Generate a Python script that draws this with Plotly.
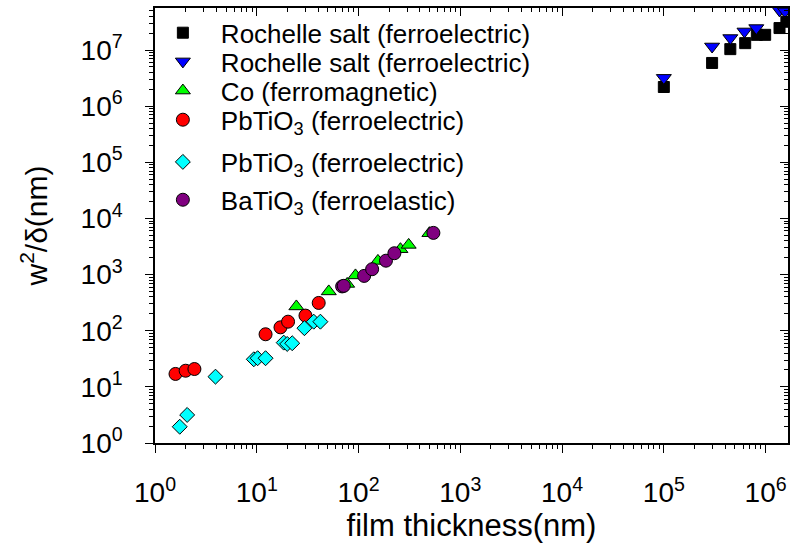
import plotly.graph_objects as go

# Rochelle salt (squares)
rs_sq_x = [1.0e5, 2.98e5, 4.5e5, 6.3e5, 8.2e5, 9.9e5, 1.37e6, 1.6e6]
rs_sq_y = [2.2e6, 5.9e6, 1.04e7, 1.33e7, 1.87e7, 1.87e7, 2.47e7, 3.2e7]
# Rochelle salt (down triangles)
rs_tri_x = [1.0e5, 2.98e5, 4.5e5, 6.2e5, 8.1e5, 1.37e6, 1.55e6]
rs_tri_y = [3.2e6, 1.16e7, 1.64e7, 2.15e7, 2.47e7, 5.1e7, 4.9e7]
# Co (ferromagnetic)
co_x = [24.5, 51, 77.3, 93.3, 155, 258, 311, 497]
co_y = [271, 502, 683, 968, 1754, 2836, 3383, 5470]
# PbTiO3 (red circles)
pto1_x = [1.59, 2.0, 2.44, 12.2, 17.1, 20.3, 30.1, 40.6]
pto1_y = [17.0, 19.4, 20.8, 86.6, 115, 145, 186, 313]
# PbTiO3 (cyan diamonds)
pto2_x = [1.75, 2.07, 3.93, 9.35, 10.2, 12.2, 18.4, 19.9, 22.3, 29.4, 36.3, 42.2]
pto2_y = [1.95, 3.16, 15.2, 31.0, 32.4, 32.4, 61.4, 58.2, 59.9, 111, 145, 145]
# BaTiO3 (ferroelastic)
bto_x = [69, 71.6, 113.5, 136, 186, 225, 544]
bto_y = [616, 631, 948, 1248, 1770, 2405, 5540]

x_decades = [0, 1, 2, 3, 4, 5, 6]
y_decades = [0, 1, 2, 3, 4, 5, 6, 7]

FONT = "Liberation Sans, Arial, Helvetica, sans-serif"


def minor_vals(decades):
    return [k * 10 ** d for d in decades for k in range(2, 10)]


series = [
    ("Rochelle salt (ferroelectric)", rs_sq_x, rs_sq_y, "square", "#000000", 11),
    ("Rochelle salt (ferroelectric)", rs_tri_x, rs_tri_y, "triangle-down", "#0000ff", 13),
    ("Co (ferromagnetic)", co_x, co_y, "triangle-up", "#00ff00", 13),
    ("PbTiO<sub>3</sub> (ferroelectric)", pto1_x, pto1_y, "circle", "#ff0000", 13),
    ("PbTiO<sub>3</sub> (ferroelectric)", pto2_x, pto2_y, "diamond", "#00ffff", 11.5),
    ("BaTiO<sub>3</sub> (ferroelastic)", bto_x, bto_y, "circle", "#800080", 13),
]

# vertical placement (paper units) of each key entry
legend_y = [0.943, 0.877, 0.810, 0.743, 0.646, 0.559]

fig = go.Figure()
legends = {}
for i, (name, xs, ys, sym, col, size) in enumerate(series):
    key = "legend" if i == 0 else "legend%d" % (i + 1)
    fig.add_trace(go.Scatter(
        x=xs, y=ys, mode="markers", name=name, legend=key,
        marker=dict(symbol=sym, color=col, size=size,
                    line=dict(color="#000000", width=1)),
    ))
    legends[key] = dict(
        x=-0.016, y=legend_y[i], xanchor="left", yanchor="middle",
        bgcolor="rgba(0,0,0,0)", borderwidth=0,
        font=dict(size=26, family=FONT), itemwidth=66,
        itemsizing="trace",
    )

# empty trace so the mirrored top/right axes get drawn
fig.add_trace(go.Scatter(x=[], y=[], xaxis="x2", yaxis="y2",
                         showlegend=False, hoverinfo="skip"))

x_range = [0, 6.22]
y_range = [0, 7.75]

common = dict(type="log", showgrid=False, zeroline=False,
              linecolor="black", linewidth=1.5,
              tickcolor="black", tickwidth=1.2, ticklen=8)

fig.update_layout(
    width=792, height=557,
    margin=dict(l=155, r=4, t=8, b=114),
    plot_bgcolor="white", paper_bgcolor="white",
    font=dict(family=FONT, color="black"),
    xaxis=dict(
        **common, range=x_range, ticks="outside",
        tickmode="array", tickvals=[10 ** d for d in x_decades],
        ticktext=["10<sup>%d</sup>" % d for d in x_decades],
        tickfont=dict(size=28), ticklabelstandoff=16,
        minor=dict(ticks="outside", ticklen=4, tickwidth=1, tickcolor="black",
                   tickmode="array", tickvals=minor_vals(x_decades)),
        title=dict(text="film thickness(nm)", font=dict(size=31), standoff=4),
    ),
    yaxis=dict(
        **common, range=y_range, ticks="outside",
        tickmode="array", tickvals=[10 ** d for d in y_decades],
        ticktext=["10<sup>%d</sup>" % d for d in y_decades],
        tickfont=dict(size=28), ticklabelstandoff=17,
        minor=dict(ticks="outside", ticklen=4, tickwidth=1, tickcolor="black",
                   tickmode="array", tickvals=minor_vals(y_decades)),
        title=dict(text="w<sup>2</sup>/δ(nm)", font=dict(size=30), standoff=24),
    ),
    xaxis2=dict(
        **common, range=x_range, overlaying="x", side="top", anchor="y",
        ticks="inside", showticklabels=False,
        tickmode="array", tickvals=[10 ** d for d in x_decades],
        minor=dict(ticks="inside", ticklen=4, tickwidth=1, tickcolor="black",
                   tickmode="array", tickvals=minor_vals(x_decades)),
    ),
    yaxis2=dict(
        **common, range=y_range, overlaying="y", side="right", anchor="x",
        ticks="inside", showticklabels=False,
        tickmode="array", tickvals=[10 ** d for d in y_decades],
        minor=dict(ticks="inside", ticklen=4, tickwidth=1, tickcolor="black",
                   tickmode="array", tickvals=minor_vals(y_decades)),
    ),
    showlegend=True,
    **legends,
)

fig.write_html("out.html")
